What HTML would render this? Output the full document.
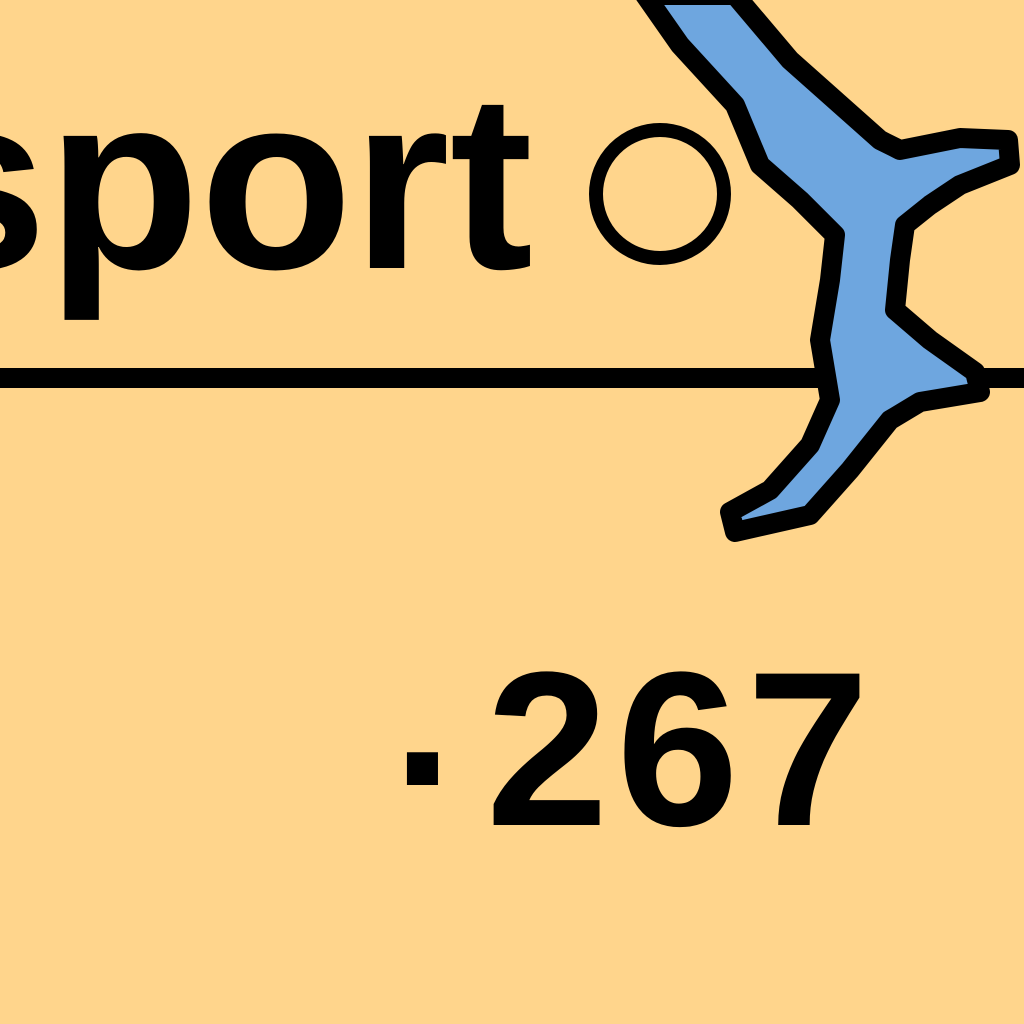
<!DOCTYPE html>
<html>
<head>
<meta charset="utf-8">
<style>
  html,body{margin:0;padding:0;background:#FFD58C;}
  svg{display:block;}
  text{font-family:"Liberation Sans",sans-serif;}
</style>
</head>
<body>
<svg id="chart" width="1024" height="1024" viewBox="0 0 1024 1024">
  <rect x="0" y="0" width="1024" height="1024" fill="#FFD58C"/>
  <text x="-92" y="268" font-size="250" font-weight="bold" fill="#000" letter-spacing="0">sport</text>
  <circle cx="660" cy="194" r="64" fill="none" stroke="#000" stroke-width="14"/>
  <rect x="0" y="368" width="1024" height="20" fill="#000"/>
  <path d="M645,-5 L735,-5 L790,60 L880,140 L900,150 L960,138 L1008,140 L1010,165 L960,185 L930,205 L905,225 L900,260 L895,310 L930,340 L975,372 L980,392 L920,402 L890,420 L850,470 L810,515 L735,532 L730,512 L770,490 L810,445 L830,400 L820,340 L830,280 L835,235 L800,200 L760,165 L735,105 L680,45 Z"
        fill="#6EA6DF" stroke="#000" stroke-width="20" stroke-linejoin="round"/>
  <g id="labels"></g>
</svg>
<script>
const categories = ["sporto"];
const values = [".267"];
const g = document.getElementById('labels');
values.forEach(function(v, i){
  const dot = document.createElementNS('http://www.w3.org/2000/svg','text');
  dot.setAttribute('x', 392);
  dot.setAttribute('y', 785 + i * 240);
  dot.setAttribute('font-size', 220);
  dot.setAttribute('font-weight', 'bold');
  dot.setAttribute('fill', '#000');
  
  
  dot.textContent = v.charAt(0);
  g.appendChild(dot);
  const t = document.createElementNS('http://www.w3.org/2000/svg','text');
  t.setAttribute('x', 486);
  t.setAttribute('y', 825 + i * 240);
  t.setAttribute('font-size', 220);
  t.setAttribute('font-weight', 'bold');
  t.setAttribute('letter-spacing', '8');
  t.setAttribute('fill', '#000');
  
  
  t.textContent = v.slice(1);
  g.appendChild(t);
});
</script>
</body>
</html>
